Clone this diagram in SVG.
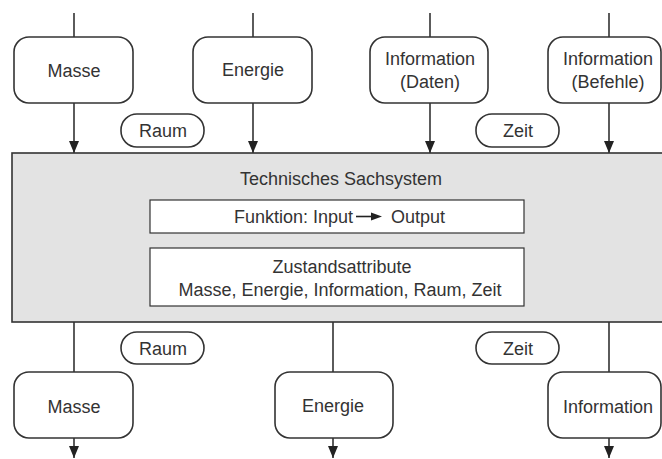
<svg xmlns="http://www.w3.org/2000/svg" width="662" height="459" viewBox="0 0 662 459">
<style>
.n{fill:#fff;stroke:#333;stroke-width:1.6}
.p{fill:#fff;stroke:#333;stroke-width:1.6}
.c line{stroke:#333;stroke-width:1.6}
text{font-family:"Liberation Sans",Arial,sans-serif;font-size:18px;fill:#333;text-anchor:middle}
</style>
<defs>
<marker id="b" markerWidth="12" markerHeight="12" refX="12" refY="6" orient="auto" markerUnits="userSpaceOnUse" viewBox="0 0 12 12">
<path d="M0,1 L12,6 L0,11 Z" fill="#222"/>
</marker>
</defs>
<g class="c" id="connectors">
<line x1="74" y1="13" x2="74" y2="37"/>
<line x1="74" y1="103" x2="74" y2="153" marker-end="url(#b)"/>
<line x1="253" y1="13" x2="253" y2="37"/>
<line x1="253" y1="103" x2="253" y2="153" marker-end="url(#b)"/>
<line x1="430" y1="13" x2="430" y2="37"/>
<line x1="430" y1="103" x2="430" y2="153" marker-end="url(#b)"/>
<line x1="609" y1="13" x2="609" y2="37"/>
<line x1="609" y1="103" x2="609" y2="153" marker-end="url(#b)"/>
<line x1="74" y1="322" x2="74" y2="372"/>
<line x1="74" y1="438" x2="74" y2="458" marker-end="url(#b)"/>
<line x1="333" y1="322" x2="333" y2="372"/>
<line x1="333" y1="438" x2="333" y2="458" marker-end="url(#b)"/>
<line x1="609" y1="322" x2="609" y2="372"/>
<line x1="609" y1="438" x2="609" y2="458" marker-end="url(#b)"/>
</g>
<g id="system">
<rect x="12" y="153" width="652" height="169" fill="#e3e3e3" stroke="#333" stroke-width="1.6"/>
<text x="341" y="185">Technisches Sachsystem</text>
</g>
<g id="funktion">
<rect x="150" y="200" width="374" height="33" fill="#fff" stroke="#333" stroke-width="1.2"/>
<text x="353" y="223" style="text-anchor:end">Funktion: Input</text>
<text x="391" y="223" style="text-anchor:start">Output</text>
<line x1="356" y1="216.5" x2="374" y2="216.5" stroke="#222" stroke-width="1.6"/>
<path d="M371,212.5 L382,216.5 L371,220.5 Z" fill="#222"/>
</g>
<g id="zustand">
<rect x="150" y="248" width="374" height="58" fill="#fff" stroke="#333" stroke-width="1.2"/>
<text x="342" y="273">Zustandsattribute</text>
<text x="340" y="296">Masse, Energie, Information, Raum, Zeit</text>
</g>
<g id="in-masse"><rect class="n" x="14" y="37" width="119" height="66" rx="15"/><text x="74" y="77">Masse</text></g>
<g id="in-energie"><rect class="n" x="193" y="37" width="119" height="66" rx="15"/><text x="253" y="76">Energie</text></g>
<g id="in-daten"><rect class="n" x="370" y="37" width="118" height="66" rx="15"/><text x="430" y="65">Information</text><text x="430" y="88">(Daten)</text></g>
<g id="in-befehle"><rect class="n" x="548" y="37" width="113" height="66" rx="15"/><text x="608" y="65">Information</text><text x="608" y="88">(Befehle)</text></g>
<g id="in-raum"><rect class="p" x="121" y="114" width="83" height="33" rx="16"/><text x="163" y="137">Raum</text></g>
<g id="in-zeit"><rect class="p" x="476" y="114" width="83" height="33" rx="16"/><text x="518" y="137">Zeit</text></g>
<g id="out-raum"><rect class="p" x="121" y="332" width="83" height="32" rx="16"/><text x="163" y="355">Raum</text></g>
<g id="out-zeit"><rect class="p" x="476" y="332" width="83" height="32" rx="16"/><text x="518" y="355">Zeit</text></g>
<g id="out-masse"><rect class="n" x="14" y="372" width="119" height="66" rx="15"/><text x="74" y="413">Masse</text></g>
<g id="out-energie"><rect class="n" x="275" y="372" width="118" height="66" rx="15"/><text x="333" y="412">Energie</text></g>
<g id="out-information"><rect class="n" x="548" y="372" width="113" height="66" rx="15"/><text x="608" y="413">Information</text></g>
</svg>
